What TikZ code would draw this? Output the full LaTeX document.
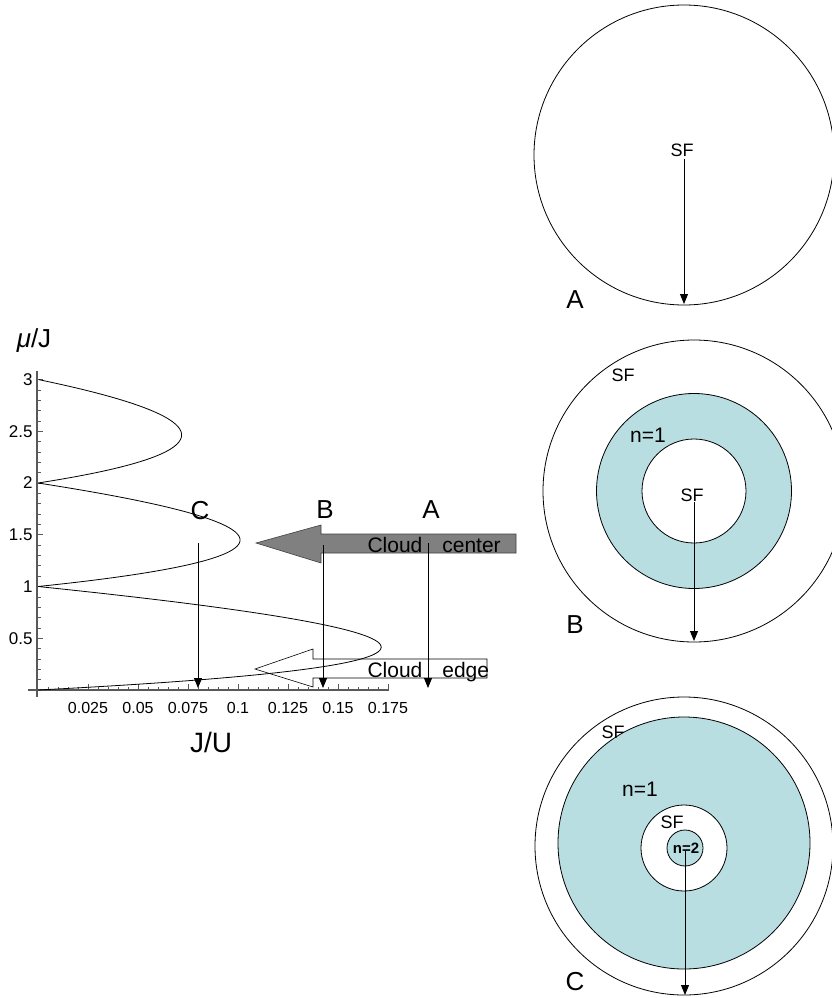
\documentclass[tikz,border=0pt]{standalone}
\usepackage{fontspec}
\setmainfont{Liberation Sans}
\usetikzlibrary{arrows.meta}
\definecolor{lobefill}{RGB}{185,222,226}
\definecolor{cloudgray}{RGB}{128,128,128}
\begin{document}
\begin{tikzpicture}[x=1pt, y=-1pt,
  big/.style={font=\fontsize{26}{30}\selectfont},
  mid/.style={font=\fontsize{21}{25}\selectfont},
  small/.style={font=\fontsize{18}{22}\selectfont},
  tick/.style={font=\fontsize{16}{19}\selectfont},
  probe/.style={-{Triangle[length=10pt,width=8pt]}, line width=0.9pt},
  ring/.style={draw, line width=0.8pt},
  axis/.style={black!65, line width=1.6pt},
  ticmark/.style={black!65, line width=0.7pt}]
\useasboundingbox (0,0) rectangle (832,998);
\clip (0,0) rectangle (832,998);

\draw[axis] (28,690) -- (389,690);
\draw[axis] (37,371) -- (37,697);
\foreach \k in {1,...,35} \draw[ticmark] ({38+10*\k},690) -- ++(0,-3.5);
\foreach \k in {1,...,7} \draw[ticmark] ({38+50*\k},690) -- ++(0,-6);
\foreach \k in {1,...,30} \draw[ticmark] (37,{690-10.35*\k}) -- ++(3.5,0);
\foreach \k in {1,...,6} \draw[ticmark] (37,{690-51.75*\k}) -- ++(6,0);
\foreach \v [count=\i] in {0.025,0.05,0.075,0.1,0.125,0.15,0.175}
  \node[tick] (xl\i) at ({38+2000*\v},708) {\v};
\foreach \v [count=\i] in {0.5,1,1.5,2,2.5,3}
  \node[tick, font=\fontsize{17}{20}\selectfont, anchor=east] (yl\i) at (36,{690-103.5*\v}) {\v};
\node[font=\fontsize{26}{30}\selectfont] (ylab) at (34,341) {\textit{μ}/J};
\node[font=\fontsize{28}{32}\selectfont] (xlab) at (211,742) {J/U};

\draw[fill=cloudgray, draw=black!75, line width=0.6pt] (256,543) -- (321,525) -- (321,534) -- (516,534)
  -- (516,553) -- (321,553) -- (321,563) -- cycle;
\draw[fill=white, draw=black, line width=0.6pt] (255,669) -- (313,649) -- (313,659) -- (487,659)
  -- (487,678) -- (313,678) -- (313,687) -- cycle;

\foreach \n/\lo in {1/0,2/1,3/2}
  \draw[line width=0.8pt] plot[domain=\lo:\n, samples=150, variable=\m, smooth]
    ({38+2000*(\n-\m)*(\m-\n+1)/(1+\m)}, {690-103.5*\m});

\node[mid, anchor=base west] (center) at (364,552) {Cloud\hspace{20pt}center};
\node[mid, anchor=base west] (edge) at (364,677) {Cloud\hspace{20pt}edge};

\coordinate (pC) at (198,543);
\coordinate (pC0) at (198,688);
\coordinate (pB) at (323,545);
\coordinate (pB0) at (323,688);
\coordinate (pA) at (428,543);
\coordinate (pA0) at (428,688);
\draw[probe] (pC) -- (pC0);
\draw[probe] (pB) -- (pB0);
\draw[probe] (pA) -- (pA0);
\node[big] (labC) at (200,511) {C};
\node[big] (labB) at (325,510) {B};
\node[big] (labA) at (431,510) {A};

\coordinate (oA) at (684,155);
\draw[ring] (oA) circle[radius=150];
\node[small] (sfA) at (682,150) {SF};
\coordinate (sA) at (684,159);
\coordinate (eA) at (684,304);
\draw[probe] (sA) -- (eA);
\node[big] (capA) at (575,300) {A};

\coordinate (oB) at (694,491);
\draw[ring] (oB) circle[radius=151];
\draw[ring, fill=lobefill] (oB) circle[radius=97.5];
\draw[ring, fill=white] (oB) circle[radius=52];
\node[small] (sfB1) at (623,375) {SF};
\node[mid] (nB1) at (648,435) {n=1};
\node[small] (sfB2) at (692,495) {SF};
\coordinate (sB) at (694,502);
\coordinate (eB) at (694,641);
\draw[probe] (sB) -- (eB);
\node[big] (capB) at (575,625) {B};

\coordinate (oC) at (684,846);
\draw[ring] (oC) circle[radius=149];
\draw[ring, fill=lobefill] (684,843) circle[radius=126];
\draw[ring, fill=white] (684,848) circle[radius=43];
\draw[ring, fill=lobefill] (685,848) circle[radius=18];
\node[small] (sfC1) at (613,732) {SF};
\node[mid] (nC1) at (640,789) {n=1};
\node[small] (sfC2) at (672,822) {SF};
\node[font=\bfseries\fontsize{15}{17}\selectfont] (nC2) at (686,848) {n=2};
\coordinate (sC) at (685,851);
\coordinate (eC) at (685,995);
\draw[probe] (sC) -- (eC);
\node[big] (capC) at (575,982) {C};
\end{tikzpicture}
\end{document}
